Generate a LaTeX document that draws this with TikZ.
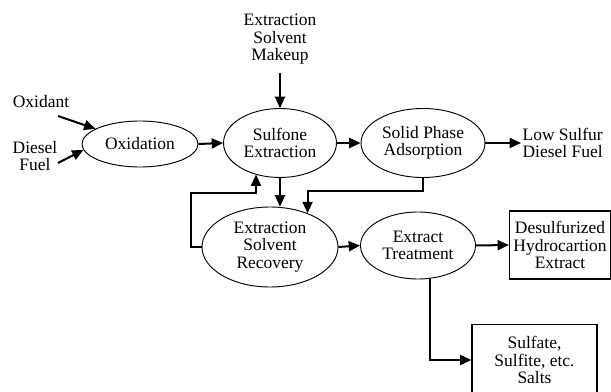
\documentclass[tikz,border=0pt]{standalone}
\usepackage{fontspec}
\setmainfont{Liberation Serif}
\usetikzlibrary{shapes.geometric,arrows.meta}
\begin{document}
\begin{tikzpicture}[x=0.75pt,y=-0.75pt,
  every node/.style={font=\fontsize{13.1pt}{13.1pt}\selectfont},
  ell/.style={ellipse,draw,line width=0.7pt,inner sep=0pt,align=center},
  boxn/.style={rectangle,draw,line width=0.9pt,inner sep=0pt,align=center},
  txt/.style={inner sep=1pt,align=center},
  arr/.style={line width=1.5pt,-{Triangle[length=8.5pt,width=7.5pt]}}]
\clip (0,0) rectangle (611,392);
\useasboundingbox (0,0) rectangle (611,392);
% nodes
\node[ell,minimum width=87pt,minimum height=34.5pt] (ox) at (140,144) {Oxidation};
\node[ell,minimum width=84.75pt,minimum height=51.75pt] (sx) at (280,143) {Sulfone\\Extraction};
\node[ell,minimum width=93pt,minimum height=51.75pt] (sp) at (423,143) {Solid Phase\\Adsorption};
\node[ell,minimum width=102pt,minimum height=60pt] (rec) at (270,247) {Extraction\\Solvent\\Recovery};
\node[ell,minimum width=86.25pt,minimum height=50.25pt] (et) at (418,245.5) {Extract\\Treatment};
\node[boxn,minimum width=75.75pt,minimum height=51pt] (ds) at (560,245) {Desulfurized\\Hydrocartion\\Extract};
\node[boxn,minimum width=93.75pt,minimum height=53.25pt] (salts) at (534.5,360) {Sulfate,\\Sulfite, etc.\\Salts};
\node[txt] (oxt) at (41,102) {Oxidant};
\node[txt] (df) at (35,156) {Diesel\\Fuel};
\node[txt] (mk) at (280,39.5) {Extraction\\Solvent\\Makeup};
\node[txt,align=left,anchor=west] (ls) at (521,143) {Low Sulfur\\Diesel Fuel};
\coordinate (oxa) at (58,116);
\coordinate (dfa) at (58,163);
\coordinate (mka) at (280,73);
\coordinate (fb) at (256,193);
% connectors
\draw[arr] (oxa) -- (ox);
\draw[arr] (dfa) -- (ox.186);
\draw[arr] (mka) -- (sx.north);
\draw[arr] (ox.east) -- (sx.west);
\draw[arr] (sx.east) -- (sp.west);
\draw[arr] (sp.east) -- (ls.west);
\draw[arr] (sx.south) -- (sx.south |- rec.north);
\draw[arr] (rec.west) -- ++(-11,0) |- (fb) -- (fb |- sx.232);
\draw[arr] (sp.south) -- ++(0,13) -| (rec.42);
\draw[arr] (rec.east) -- (et.west);
\draw[arr] (et.east) -- (ds.west);
\draw[arr] (et.290) |- (salts.west);
\end{tikzpicture}
\end{document}
